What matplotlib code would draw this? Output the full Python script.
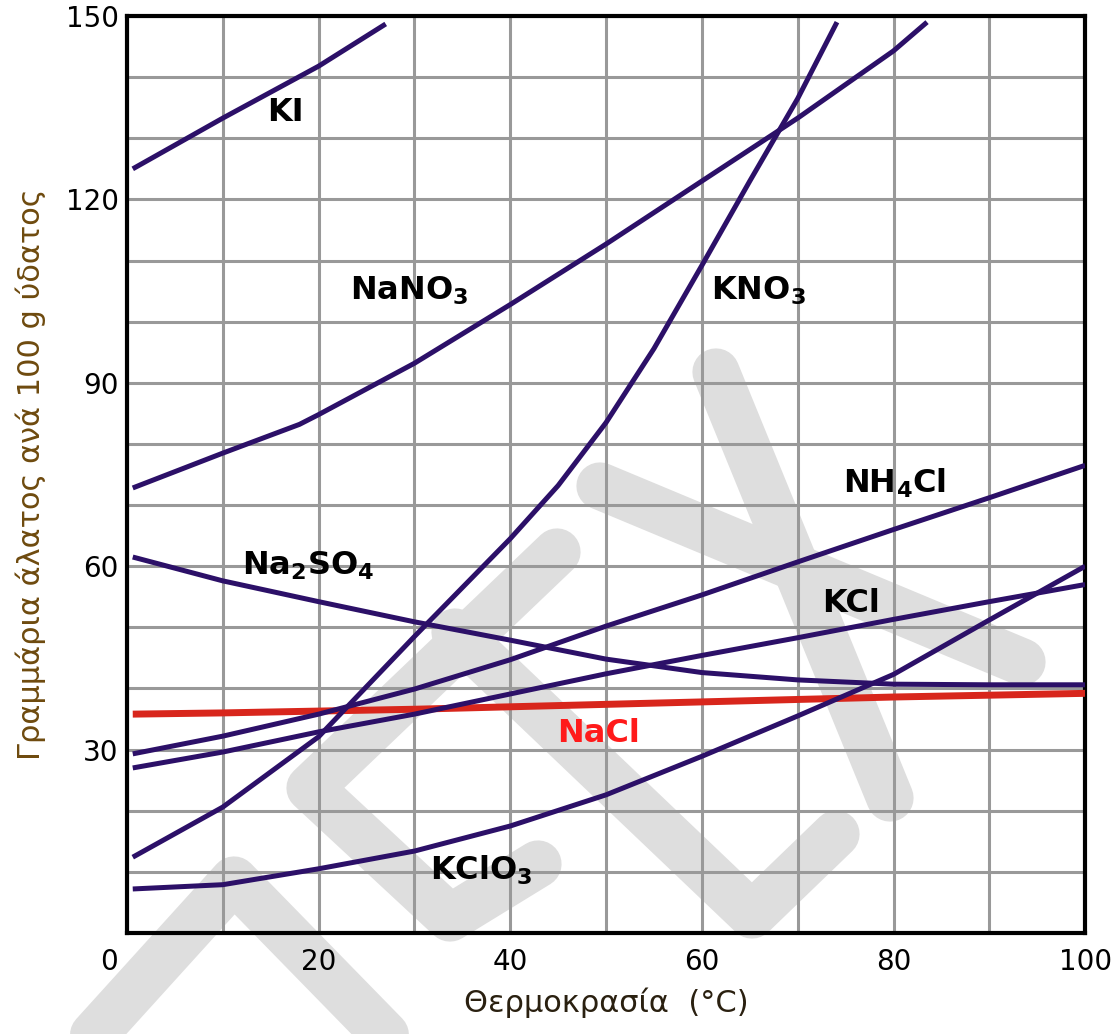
import matplotlib
matplotlib.use("Agg")
import matplotlib.pyplot as plt
from matplotlib.lines import Line2D
from matplotlib.transforms import ScaledTranslation

plt.rcParams["font.family"] = ["DejaVu Sans"]
plt.rcParams["mathtext.fontset"] = "dejavusans"
plt.rcParams["mathtext.default"] = "bf"

# solubility, g of salt per 100 g water
temps = [0.6, 10, 20, 30, 40, 50, 60, 70, 80, 90, 100]

NaCl = [35.8, 36.0, 36.3, 36.6, 37.0, 37.4, 37.8, 38.2, 38.6, 38.9, 39.2]
KCl = [27.0, 29.6, 32.9, 35.8, 39.1, 42.4, 45.4, 48.3, 51.3, 54.2, 57.0]
NH4Cl = [29.3, 32.2, 35.8, 39.9, 44.7, 50.2, 55.3, 60.7, 66.0, 71.2, 76.5]
Na2SO4 = [61.5, 57.6, 54.2, 50.9, 47.9, 44.8, 42.6, 41.4, 40.7, 40.6, 40.6]
KClO3 = [7.2, 7.9, 10.5, 13.4, 17.5, 22.6, 28.9, 35.5, 42.3, 51.2, 60.0]

KI_t = [0.6, 10, 20, 27]
KI = [125.0, 133.3, 141.8, 148.7]

NaNO3_t = [0.6, 10, 18, 20, 30, 40, 50, 60, 70, 80, 83.5]
NaNO3 = [72.8, 78.5, 83.2, 84.8, 93.2, 102.8, 112.7, 123.0, 133.3, 144.3, 149.0]

KNO3_t = [0.6, 10, 20, 30, 40, 45, 50, 55, 60, 65, 70, 74.1]
KNO3 = [12.4, 20.6, 32.1, 48.5, 64.5, 73.2, 83.5, 95.6, 109.2, 123.0, 136.5, 149.0]

# label text and anchor (left, baseline) in data units
labels = ["KI", "NaNO$_3$", "KNO$_3$", "NH$_4$Cl", "Na$_2$SO$_4$", "KCl", "NaCl", "KClO$_3$"]
label_x = [14.6, 23.3, 60.9, 74.7, 12.0, 72.5, 44.9, 31.6]
label_y = [132.8, 103.6, 103.6, 72.0, 58.7, 52.5, 31.2, 8.8]

LINE = "#2c1068"
RED = "#d8261c"


def watermark(fig):
    # faint grey logo behind the chart (pixel coords of the 1118x1034 image)
    strokes = [
        [(80, 1050), (234, 880), (400, 1050)],
        [(557, 552), (310, 788), (450, 918), (538, 864)],
        [(455, 632), (752, 915), (836, 834)],
        [(716, 372), (890, 798)],
        [(600, 486), (1022, 662)],
    ]
    W, H = 1118.0, 1034.0
    for s in strokes:
        xs = [p[0] / W for p in s]
        ys = [1 - p[1] / H for p in s]
        ln = Line2D(xs, ys, transform=fig.transFigure, color="#dedede", lw=34,
                    solid_capstyle="round", solid_joinstyle="round", zorder=-5)
        fig.add_artist(ln)


fig = plt.figure(figsize=(11.18, 10.34), dpi=100)
watermark(fig)
ax = fig.add_axes([0.1136, 0.0977, 0.857, 0.8868])
ax.set_facecolor("none")

ax.set_xlim(0, 100)
ax.set_ylim(0, 150)
ax.set_xticks(range(0, 101, 20))
ax.set_xticks(range(0, 101, 10), minor=True)
ax.set_yticks(range(30, 151, 30))
ax.set_yticks(range(0, 151, 10), minor=True)
ax.grid(True, which="both", color="#999999", lw=2.2)
ax.set_axisbelow(True)
ax.tick_params(which="both", length=0)
ax.tick_params(axis="x", pad=11, labelsize=20)
ax.tick_params(axis="y", pad=6, labelsize=20)
for sp in ax.spines.values():
    sp.set_linewidth(3)
    sp.set_color("black")

# the "0" of the x axis sits a little left of the corner, as in the original
xl = ax.get_xticklabels()
xl[0].set_transform(xl[0].get_transform() + ScaledTranslation(-0.18, 0, fig.dpi_scale_trans))

ax.plot(temps, NaCl, color=RED, lw=5, solid_capstyle="butt", zorder=3)
for t, v in [(temps, KCl), (temps, NH4Cl), (temps, Na2SO4), (temps, KClO3),
             (KI_t, KI), (NaNO3_t, NaNO3), (KNO3_t, KNO3)]:
    ax.plot(t, v, color=LINE, lw=3.6, solid_capstyle="butt", solid_joinstyle="round", zorder=4)

for i in range(len(labels)):
    c = "#ff1a1a" if labels[i] == "NaCl" else "black"
    ax.text(label_x[i], label_y[i], labels[i], fontsize=23, fontweight="bold",
            color=c, ha="left", va="baseline", zorder=5)

ax.set_xlabel("Θερμοκρασία  (°C)", fontsize=22, color="#2a2010", labelpad=8)
ax.set_ylabel("Γραμμάρια άλατος ανά 100 g ύδατος", fontsize=22, color="#6e4a0e", labelpad=14)

fig.savefig("out.png", dpi=100)
